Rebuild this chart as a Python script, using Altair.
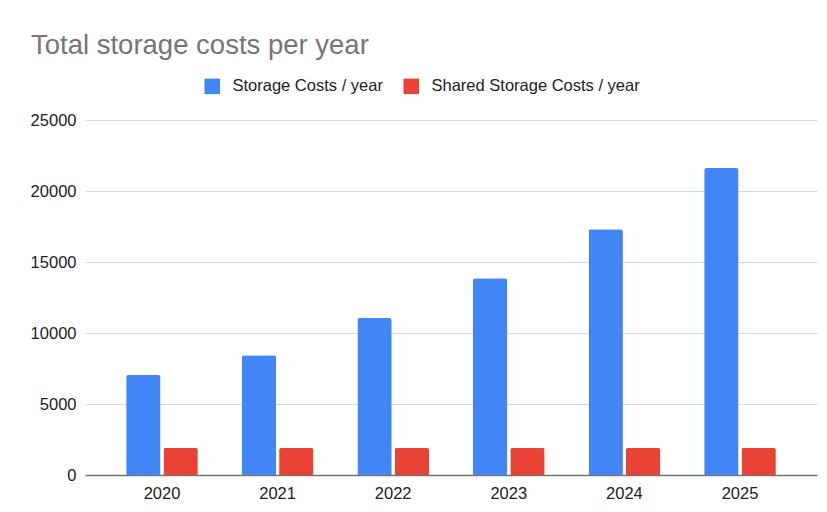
import altair as alt
import pandas as pd

years = ["2020", "2021", "2022", "2023", "2024", "2025"]
series = ["Storage Costs / year", "Shared Storage Costs / year"]
storage_costs = [7050, 8430, 11050, 13850, 17300, 21620]
shared_costs = [1920, 1920, 1920, 1920, 1920, 1920]
y_ticks = [0, 5000, 10000, 15000, 20000, 25000]
colors = ["#4285F4", "#EA4335"]

rows = []
for i, yr in enumerate(years):
    rows.append({"year": yr, "series": series[0], "cost": storage_costs[i]})
    rows.append({"year": yr, "series": series[1], "cost": shared_costs[i]})
df = pd.DataFrame(rows)

FONT = "Liberation Sans"

chart = (
    alt.Chart(df)
    .mark_bar(cornerRadiusTopLeft=2.5, cornerRadiusTopRight=2.5)
    .encode(
        x=alt.X(
            "year:N",
            sort=years,
            title=None,
            scale=alt.Scale(paddingInner=0.38, paddingOuter=0.356),
            axis=alt.Axis(
                labelAngle=0,
                ticks=False,
                domain=True,
                domainColor="#757575",
                domainWidth=1.3,
                labelPadding=10,
                labelFontSize=16.5,
                labelColor="#222222",
                labelFont=FONT,
                grid=False,
            ),
        ),
        xOffset=alt.XOffset(
            "series:N",
            sort=series,
            scale=alt.Scale(domain=series, paddingInner=0.08, paddingOuter=0),
        ),
        y=alt.Y(
            "cost:Q",
            title=None,
            scale=alt.Scale(domain=[0, 25000], nice=False),
            axis=alt.Axis(
                values=y_ticks,
                format="d",
                ticks=False,
                domain=False,
                labelPadding=9,
                labelFontSize=16.5,
                labelColor="#222222",
                labelFont=FONT,
                gridColor="#d9d9d9",
                gridWidth=1,
            ),
        ),
        color=alt.Color(
            "series:N",
            sort=series,
            scale=alt.Scale(domain=series, range=colors),
            legend=alt.Legend(
                title=None,
                orient="none",
                direction="horizontal",
                legendX=119,
                legendY=-42,
                symbolType="square",
                symbolSize=240,
                symbolStrokeWidth=0,
                symbolOpacity=1,
                labelFontSize=16.5,
                labelFont=FONT,
                labelColor="#222222",
                labelOffset=12,
                labelLimit=0,
                columnPadding=20,
            ),
        ),
    )
    .properties(
        width=732,
        height=355,
        padding={"left": 77, "top": 112, "right": 2, "bottom": 29},
        autosize=alt.AutoSizeParams(type="none"),
        title=alt.TitleParams(
            "Total storage costs per year",
            anchor="start",
            frame="group",
            dx=-54,
            offset=19,
            fontSize=27.5,
            font=FONT,
            fontWeight="normal",
            color="#757575",
        ),
    )
    .configure_view(stroke=None)
)

chart.save("out.html", embed_options={"renderer": "svg", "actions": False})
